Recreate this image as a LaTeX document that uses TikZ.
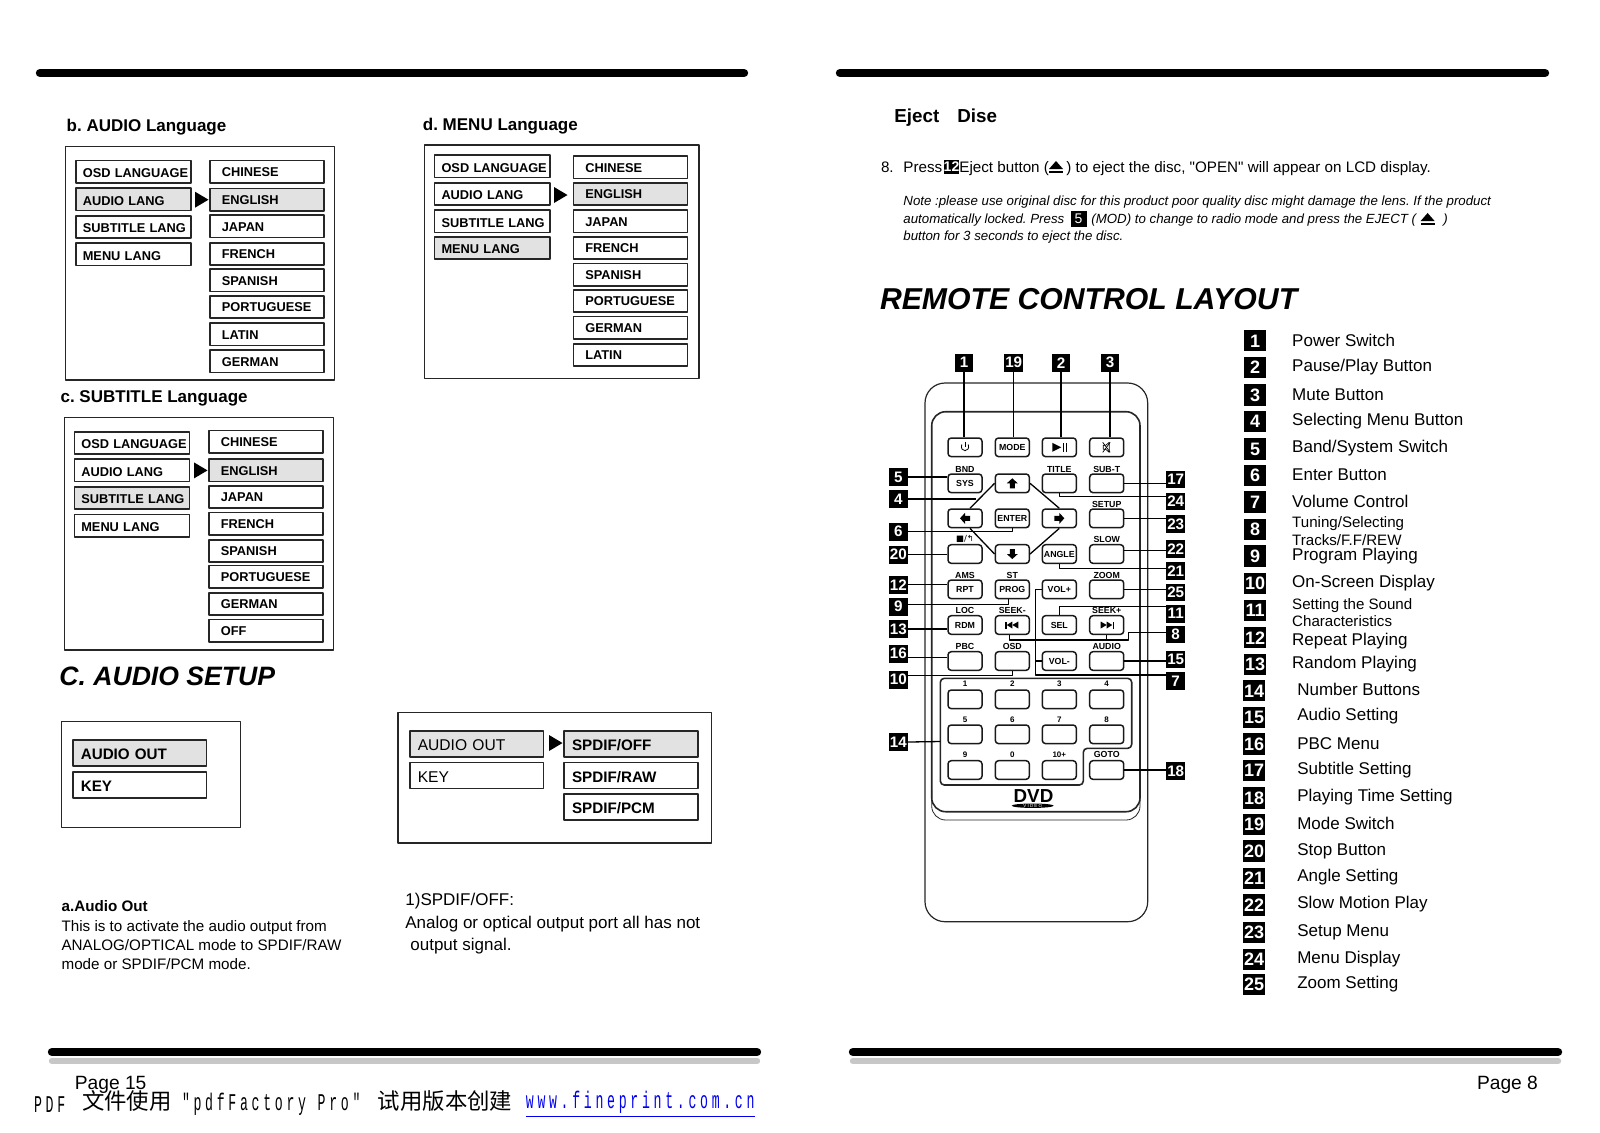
\documentclass[tikz,border=0pt]{standalone}
\usepackage{fontspec}
\setmainfont{Liberation Sans}
\newfontfamily\plainfont{Liberation Sans}
\newfontfamily\cjkfont{Noto Sans CJK SC}
\newfontfamily\wmfont[FakeStretch=0.55,LetterSpace=15.4]{Liberation Mono}
\newfontfamily\symfont{DejaVu Sans}
\usetikzlibrary{calc}
\definecolor{selgray}{HTML}{E2E2E2}
\definecolor{linkblue}{HTML}{0000EE}

\begin{document}
\frenchspacing
\begin{tikzpicture}[
  x=0.5pt,
  y=-0.5pt,
  line join=round,
  every node/.style={inner sep=0pt},
  barline/.style={line width=4.2pt, line cap=round},
  barshade/.style={line width=3.2pt, line cap=round, color=black!22},
  frameline/.style={line width=0.65pt, draw=black!85},
  menuitem/.style={draw=black!85, line width=0.8pt, anchor=west, minimum height=11.2pt,
    text height=4.8pt, text depth=0pt, font=\bfseries\fontsize{6.4}{7}\selectfont},
  leftitem/.style={menuitem, inner xsep=3.5pt, text width=50.6pt, text height=5.8pt},
  rightitem/.style={menuitem, inner xsep=6pt, text width=45.1pt},
  audioitem/.style={draw=black!85, line width=0.8pt, anchor=west, minimum height=13pt,
    inner xsep=4pt, text width=58.8pt, text height=6.9pt, text depth=0pt,
    font=\fontsize{7.8}{9}\selectfont},
  selitem/.style={fill=selgray},
  headtxt/.style={anchor=west, yshift=-1pt, text height=6.2pt, text depth=1.8pt,
    font=\bfseries\fontsize{8.5}{10}\selectfont},
  bigtxt/.style={anchor=west, font=\bfseries\itshape\fontsize{13.3}{15}\selectfont},
  bodytxt/.style={anchor=west, font=\fontsize{7.6}{9.7}\selectfont, align=left},
  sigtxt/.style={anchor=west, font=\fontsize{8.5}{11}\selectfont, align=left},
  steptxt/.style={anchor=west, yshift=-1pt, text height=5.6pt, text depth=1.6pt,
    font=\plainfont\fontsize{7.6}{9}\selectfont},
  notetxt/.style={anchor=west, yshift=-0.5pt, text height=5pt, text depth=1.4pt,
    font=\itshape\fontsize{6.64}{8}\selectfont},
  ejecttxt/.style={anchor=west, yshift=-0.6pt, text height=7pt, text depth=2pt,
    font=\bfseries\fontsize{9.4}{11}\selectfont},
  pagetxt/.style={anchor=west, yshift=-0.6pt, text height=7pt, text depth=2pt,
    font=\fontsize{9.6}{11}\selectfont},
  legtxt/.style={anchor=west, yshift=-1pt, text height=6.2pt, text depth=1.8pt,
    font=\fontsize{8.5}{10}\selectfont},
  legsmall/.style={anchor=west, font=\fontsize{7.55}{8.7}\selectfont, align=left},
  numsq/.style={fill=black, text=white, minimum width=9.4pt, minimum height=8.8pt, yshift=-0.5pt,
    font=\bfseries\fontsize{7.6}{8}\selectfont},
  numbig/.style={fill=black, text=white, minimum size=10.6pt, yshift=-0.5pt,
    font=\bfseries\fontsize{9}{10}\selectfont},
  btn/.style={draw=black!90, line width=0.75pt, rounded corners=1.6pt, minimum width=17pt,
    minimum height=9.3pt, font=\bfseries\fontsize{4.4}{5}\selectfont},
  keylab/.style={font=\bfseries\fontsize{4.4}{5}\selectfont},
  numlab/.style={font=\bfseries\fontsize{4}{5}\selectfont},
  bodyline/.style={line width=0.6pt, draw=black!85},
  lead/.style={line width=0.65pt},
  wm/.style={anchor=west, yshift=-1.6pt, font=\wmfont\fontsize{12}{14}\selectfont},
  wmcjk/.style={anchor=west, font=\cjkfont\fontsize{11.2}{14}\selectfont}
]
  \useasboundingbox (0,0) rectangle (1600,1132);

  % Page rules
  \foreach \xa/\xb in {40/744, 840/1545}{\draw[barline] (\xa,73) -- (\xb,73);}
  \foreach \xa/\xb in {52/757, 853/1558}{
    \draw[barshade] (\xa,1061) -- (\xb,1061);
    \draw[barline] (\xa,1052) -- (\xb,1052);
  }

  % b. AUDIO Language
  \node[headtxt] (headB) at (66.3,125.5) {b. AUDIO Language};
  \draw[frameline] (65.3,146.7) rectangle (334.7,380);
  \foreach \yy/\txt/\sty [count=\c] in {171.7/OSD LANGUAGE/, 199.3/AUDIO LANG/selitem, 227/SUBTITLE LANG/, 254.3/MENU LANG/}
    {\node[leftitem,\sty] (bL\c) at (75,\yy) {\mbox{\txt}};}
  \foreach \yy/\txt/\sty [count=\c] in {171.7/CHINESE/, 199.7/ENGLISH/selitem, 226.3/JAPAN/, 254/FRENCH/, 280.3/SPANISH/, 307/PORTUGUESE/, 334.3/LATIN/, 361.3/GERMAN/}
    {\node[rightitem,\sty] (bR\c) at (209,\yy) {\mbox{\txt}};}

  % c. SUBTITLE Language
  \node[headtxt] (headC) at (60.2,396) {c. SUBTITLE Language};
  \draw[frameline] (64.3,417.3) rectangle (333.7,650);
  \foreach \yy/\txt/\sty [count=\c] in {442.9/OSD LANGUAGE/, 470.4/AUDIO LANG/, 498/SUBTITLE LANG/selitem, 525.5/MENU LANG/}
    {\node[leftitem,\sty] (cL\c) at (73.5,\yy) {\mbox{\txt}};}
  \foreach \yy/\txt/\sty [count=\c] in {441.8/CHINESE/, 470.4/ENGLISH/selitem, 497/JAPAN/, 523.5/FRENCH/, 551/SPANISH/, 576.5/PORTUGUESE/, 604/GERMAN/, 630.6/OFF/}
    {\node[rightitem,\sty] (cR\c) at (208,\yy) {\mbox{\txt}};}

  % d. MENU Language
  \node[headtxt] (headD) at (422.5,124.5) {d. MENU Language};
  \draw[frameline] (424.5,145) rectangle (699,378.6);
  \foreach \yy/\txt/\sty [count=\c] in {166.3/OSD LANGUAGE/, 193.9/AUDIO LANG/, 221.4/SUBTITLE LANG/, 248/MENU LANG/selitem}
    {\node[leftitem,\sty] (dL\c) at (433.7,\yy) {\mbox{\txt}};}
  \foreach \yy/\txt/\sty [count=\c] in {167.3/CHINESE/, 193.9/ENGLISH/selitem, 221.4/JAPAN/, 248/FRENCH/, 274.5/SPANISH/, 301/PORTUGUESE/, 327.6/GERMAN/, 355/LATIN/}
    {\node[rightitem,\sty] (dR\c) at (572.5,\yy) {\mbox{\txt}};}

  % C. AUDIO SETUP
  \node[bigtxt] (headSetup) at (59,676.5) {C. AUDIO SETUP};
  \draw[frameline] (61.2,721.4) rectangle (240.8,827.6);
  \node[audioitem,selitem,font=\bfseries\fontsize{7.6}{9}\selectfont] (aL1) at (72,753) {AUDIO OUT};
  \node[audioitem,font=\bfseries\fontsize{7.6}{9}\selectfont] (aL2) at (72,784.7) {KEY};
  \draw[frameline] (398,712.2) rectangle (711.2,842.9);
  \node[audioitem,selitem] (sL1) at (409,743.9) {AUDIO OUT};
  \node[audioitem] (sL2) at (409,775.5) {KEY};
  \foreach \yy/\txt/\sty [count=\c] in {743.9/{SPDIF/OFF}/selitem, 775.5/{SPDIF/RAW}/, 807/{SPDIF/PCM}/}
    {\node[audioitem,\sty,font=\bfseries\fontsize{7.6}{9}\selectfont] (sR\c) at (563.3,\yy) {\txt};}

  % Menu pointers
  \foreach \xx/\yy in {195/199.7, 194/470.4, 554/195, 549/743}
    {\fill[shift={(\xx,\yy)}] (0,-8) -- (13.5,0) -- (0,8) -- cycle;}

  \node[anchor=west, font=\bfseries\fontsize{7.6}{9.7}\selectfont] (audioOutHead) at (61.2,906) {a.Audio Out};
  \node[bodytxt] (audioOutTxt) at (61.2,945) {This is to activate the audio output from\\ANALOG/OPTICAL mode to SPDIF/RAW\\mode or SPDIF/PCM mode.};
  \node[sigtxt] (spdifHead) at (405,901) {1)SPDIF/OFF:};
  \node[sigtxt] (spdifTxt) at (405,935) {Analog or optical output port all has not\\\hspace*{2.5pt}output signal.};

  \node[pagetxt] (pageLeft) at (74.5,1083.7) {Page 15};
  \node[pagetxt] (pageRight) at (1476.6,1083.7) {Page 8};

  % Watermark line
  \node[wm] (wmA) at (33.7,1101) {PDF};
  \node[wmcjk] (wmB) at (81.6,1101) {文件使用};
  \node[wm] (wmC) at (181.6,1101) {"pdfFactory Pro"};
  \node[wmcjk] (wmD) at (377.5,1101) {试用版本创建};
  \node[wm,text=linkblue] (wmE) at (525.5,1101) {\underline{www.fineprint.com.cn}};

  % Eject text
  \node[ejecttxt] (ejectA) at (894,116) {Eject};
  \node[ejecttxt] (ejectB) at (957,116) {Dise};
  \node[steptxt] (stepNo) at (880.6,166.3) {8.};
  \node[steptxt] (stepA) at (903,166.3) {Press};
  \node[fill=black, text=white, minimum width=7.5pt, minimum height=7pt, font=\bfseries\fontsize{7}{8}\selectfont] (stepSq) at (951.5,167) {12};
  \node[steptxt] (stepB) at (959,166.3) {Eject button (};
  \node[steptxt] (stepC) at (1066,166.3) {) to eject the disc, "OPEN" will appear on LCD display.};
  \node[notetxt] (noteA) at (903,201) {Note :please use original disc for this product poor quality disc might damage the lens. If the product};
  \node[notetxt] (noteB) at (903,218.4) {automatically locked. Press};
  \node[fill=black, text=white, minimum width=8pt, minimum height=8pt, font=\fontsize{7}{8}\selectfont] (noteSq) at (1078.6,219) {5};
  \node[notetxt] (noteC) at (1091,218.4) {(MOD) to change to radio mode and press the EJECT (};
  \node[notetxt] (noteD) at (1443,218.4) {)};
  \node[notetxt] (noteE) at (903,235.7) {button for 3 seconds to eject the disc.};
  \foreach \xx/\yy in {1056/167, 1427.6/219}{
    \fill[shift={(\xx,\yy)}] (-7,2) -- (7,2) -- (0,-6) -- cycle;
    \fill[shift={(\xx,\yy)}] (-7,4) rectangle (7,6);
  }

  \node[anchor=west, font=\bfseries\itshape\fontsize{15.1}{17}\selectfont] (headRemote) at (879.6,299) {REMOTE CONTROL LAYOUT};

  % Legend
  \foreach \i/\xx/\yy in {1/1255/339.8, 2/1255/366.3, 3/1255/393.9, 4/1255/420.4, 5/1255/448, 6/1255/474.5, 7/1255/501, 8/1255/528.6, 9/1255/555, 10/1255/582.7, 11/1255/609.2, 12/1255/636.7, 13/1255/663.3, 14/1254/689.8, 15/1254/716.3, 16/1254/742.9, 17/1254/769.4, 18/1254/796.9, 19/1254/823.5, 20/1254/850, 21/1254/877.6, 22/1254/904, 23/1254/931.6, 24/1254/958.2, 25/1254/983.7}
    {\node[numbig] (leg\i) at (\xx,\yy) {\i};}
  \foreach \i/\xx/\yy/\txt in {1/1291.8/339.8/Power Switch, 2/1291.8/365.3/{Pause/Play Button}, 3/1291.8/393.9/Mute Button, 4/1291.8/419.4/Selecting Menu Button, 5/1291.8/445.9/{Band/System Switch}, 6/1291.8/474.5/Enter Button, 7/1291.8/501/Volume Control, 9/1291.8/554/Program Playing, 10/1291.8/580.6/On-Screen Display, 12/1291.8/638.8/Repeat Playing, 13/1291.8/662.2/Random Playing, 14/1296.9/688.8/Number Buttons, 15/1296.9/714.3/Audio Setting, 16/1296.9/742.9/PBC Menu, 17/1296.9/768.4/Subtitle Setting, 18/1296.9/794.9/Playing Time Setting, 19/1296.9/823.5/Mode Switch, 20/1296.9/849/Stop Button, 21/1296.9/875.5/Angle Setting, 22/1296.9/902/Slow Motion Play, 23/1296.9/929.6/Setup Menu, 24/1296.9/957.1/Menu Display, 25/1296.9/981.6/Zoom Setting}
    {\node[legtxt] (legTxt\i) at (\xx,\yy) {\txt};}
  \node[legsmall] (legTxt8) at (1291.8,531) {Tuning/Selecting\\Tracks/F.F/REW};
  \node[legsmall] (legTxt11) at (1291.8,612.5) {Setting the Sound\\Characteristics};

  % Remote body
  \draw[bodyline, rounded corners=10pt] (925,383) rectangle (1147.7,921.7);
  \draw[bodyline, line width=0.8pt, rounded corners=7pt] (931.7,411.7) rectangle (1140,811.7);
  \draw[bodyline, line width=0.4pt, rounded corners=7pt] (931.7,790) -- (931.7,820) -- (1140,820) -- (1140,790);
  \draw[bodyline, line width=0.8pt, rounded corners=2pt] (940.3,678.3) -- (1131.7,678.3) -- (1131.7,748.3) -- (1083.3,748.3) -- (1083.3,785) -- (940.3,785) -- cycle;

  % Buttons
  \foreach \nm/\xx/\yy/\txt in {Mode/1012.3/447.3/MODE, Sys/965/483.3/SYS, Enter/1012.3/518.3/ENTER, Angle/1059.3/554/ANGLE, Rpt/965/589.3/RPT, Prog/1012.3/589.3/PROG, Volp/1059.3/589.3/VOL+, Rdm/965/625/RDM, Sel/1059.3/625/SEL, Volm/1059.3/661/VOL-}
    {\node[btn] (btn\nm) at (\xx,\yy) {\txt};}
  \foreach \nm/\xx/\yy in {Power/965/447.3, Play/1059.3/447.3, Mute/1106.7/447.3, Up/1012.3/483.3, Title/1059.3/483.3, Subt/1106.7/483.3, Left/965/518.3, Right/1059.3/518.3, Setup/1106.7/518.3, Stop/965/554, Down/1012.3/554, Slow/1106.7/554, Zoom/1106.7/589.3, Seekm/1012.3/625, Seekp/1106.7/625, Pbc/965/661, Osd/1012.3/661, Audio/1106.7/661, KeyA/965/699.3, KeyB/1012.3/699.3, KeyC/1059.3/699.3, KeyD/1106.7/699.3, KeyE/965/734.3, KeyF/1012.3/734.3, KeyG/1059.3/734.3, KeyH/1106.7/734.3, KeyI/965/770, KeyJ/1012.3/770, KeyK/1059.3/770, Goto/1106.7/770}
    {\node[btn] (btn\nm) at (\xx,\yy) {};}

  % Button captions
  \foreach \xx/\yy/\txt [count=\c] in {965/469/BND, 1059.3/469/TITLE, 1106.7/469/SUB-T, 1106.7/504/SETUP, 1106.7/539/SLOW, 965/575/AMS, 1012.3/575/ST, 1106.7/575/ZOOM, 965/610.7/LOC, 1012.3/610.7/SEEK-, 1106.7/610.7/SEEK+, 965/646/PBC, 1012.3/646/OSD, 1106.7/646/AUDIO, 1106.7/754.3/GOTO}
    {\node[keylab] (cap\c) at (\xx,\yy) {\txt};}
  \node[keylab, font=\symfont\fontsize{4.2}{5}\selectfont] (capStop) at (965,539) {■/↰};
  \foreach \xx/\yy/\txt [count=\c] in {965/684/1, 1012.3/684/2, 1059.3/684/3, 1106.7/684/4, 965/719.3/5, 1012.3/719.3/6, 1059.3/719.3/7, 1106.7/719.3/8, 965/754.3/9, 1012.3/754.3/0, 1059.3/754.3/10+}
    {\node[numlab] (capNum\c) at (\xx,\yy) {\txt};}

  % Button icons
  \draw[line width=0.4pt, shift={(btnPower.center)}] (0,-5.5) -- (0,0);
  \draw[line width=0.4pt, shift={(btnPower.center)}] (-3.2,-3) .. controls (-6,5.5) and (6,5.5) .. (3.2,-3);
  \fill[shift={(btnPlay.center)}] (-7,-4.5) -- (2,0) -- (-7,4.5) -- cycle;
  \fill[shift={(btnPlay.center)}] (3.5,-4.5) rectangle (5,4.5);
  \fill[shift={(btnPlay.center)}] (6.5,-4.5) rectangle (8,4.5);
  \draw[line width=0.35pt, shift={(btnMute.center)}] (-3.5,-2) -- (-1,-2) -- (2.5,-5) -- (2.5,5) -- (-1,2) -- (-3.5,2) -- cycle;
  \draw[line width=0.35pt, shift={(btnMute.center)}] (-4,-5) -- (3.5,5);
  \draw[line width=0.35pt, shift={(btnMute.center)}] (-4,5) -- (3.5,-5);
  \foreach \nm/\ang in {btnUp/0, btnLeft/90, btnDown/180, btnRight/270}
    {\fill[shift={(\nm.center)}, rotate=\ang] (0,-5) -- (5.5,0) -- (2.5,0) -- (2.5,5) -- (-2.5,5) -- (-2.5,0) -- (-5.5,0) -- cycle;}
  \foreach \nm/\sx in {btnSeekm/1, btnSeekp/-1}{
    \fill[shift={(\nm.center)}, xscale=\sx] (-7,-3.5) rectangle (-5.8,3.5);
    \fill[shift={(\nm.center)}, xscale=\sx] (-5.5,0) -- (0,-3.5) -- (0,3.5) -- cycle;
    \fill[shift={(\nm.center)}, xscale=\sx] (0,0) -- (6,-3.5) -- (6,3.5) -- cycle;
  }

  % Direction pad
  \draw[lead] (btnUp.west) -- ([xshift=2.5pt]btnLeft.north);
  \draw[lead] (btnUp.east) -- (btnRight.north);
  \draw[lead] ([xshift=2.5pt]btnLeft.south) -- (btnDown.west);
  \draw[lead] (btnRight.south) -- (btnDown.east);

  % Logo
  \node[font=\bfseries\fontsize{9.4}{10}\selectfont] (dvdLogo) at (1033.5,796) {DVD};
  \fill (1032.7,805.7) ellipse (21 and 2.2);
  \node[text=white, font=\fontsize{2.2}{3}\selectfont] (dvdSub) at (1032.7,805.7) {V I D E O};

  % Callouts
  \foreach \i/\xx/\yy in {1/964/361.7, 19/1013.7/361.7, 2/1061/361.7, 3/1110/361.7, 5/898.3/476, 4/898.3/498, 6/898.3/530.7, 20/898.3/553.7, 12/898.3/583.7, 9/898.3/605.7, 13/898.3/628, 16/898.3/652.7, 10/898.3/678.7, 14/898.3/741, 17/1175.7/478.3, 24/1175.7/500.3, 23/1175.7/523, 22/1175.7/547.7, 21/1175.7/569.7, 25/1175.7/591.3, 11/1175.7/612.7, 8/1175.7/633.3, 15/1175.7/658.3, 7/1175.7/680, 18/1175.7/770}
    {\node[numsq] (n\i) at (\xx,\yy) {\i};}

  % Top leads
  \foreach \i/\nm in {1/Power, 19/Mode, 2/Play, 3/Mute}
    {\draw[lead] (n\i.south) -- (n\i.south |- btn\nm.north);}
  % Left leads
  \foreach \i/\nm in {5/Sys, 20/Stop, 12/Rpt, 13/Rdm}
    {\draw[lead] (n\i.east) -- (n\i.east -| btn\nm.west);}
  \draw[lead] ([yshift=-2pt]n16.east) -- ([yshift=-2pt]n16.east -| btnPbc.west);
  \coordinate (c4) at (976,499);
  \draw[lead] (n4.east) -- (c4);
  \draw[lead] (n6.east) -| (btnEnter.south);
  \draw[lead] ([yshift=1pt]n9.east) -| ([xshift=-2pt]btnProg.south);
  \draw[lead] ([yshift=2pt]n10.east) -| (btnOsd.south);
  \coordinate (cPanel) at (940.3,741.5);
  \draw[lead] (n14.east) -- (cPanel);
  % Right leads
  \foreach \i/\nm in {17/Subt, 23/Setup, 25/Zoom, 15/Audio, 18/Goto}
    {\draw[lead] (btn\nm.east) -- (btn\nm.east -| n\i.west);}
  \draw[lead] ([yshift=-1pt]n22.west) -- ([yshift=-1pt]n22.west -| btnSlow.east);
  \draw[lead] (btnTitle.south) |- ([yshift=2.5pt]n24.west);
  \draw[lead] (btnAngle.south) |- ([yshift=1pt]n21.west);
  \draw[lead] (btnSel.north) |- ([yshift=3.5pt]n11.west);
  \coordinate (c8) at (1128.3,640);
  \draw[lead] ([yshift=1pt]n8.west) -| (c8) -| ([xshift=-1.5pt]btnSeekm.south);
  \draw[lead] (btnSeekp.south) -- (btnSeekp.south |- c8);
  \coordinate (c7) at (1035.7,589.3);
  \draw[lead] ([yshift=3pt]n7.west) -| (c7) -- (btnVolp.west);
  \draw[lead] (btnVolm.west) -- (btnVolm.west -| c7);
\end{tikzpicture}
\end{document}
